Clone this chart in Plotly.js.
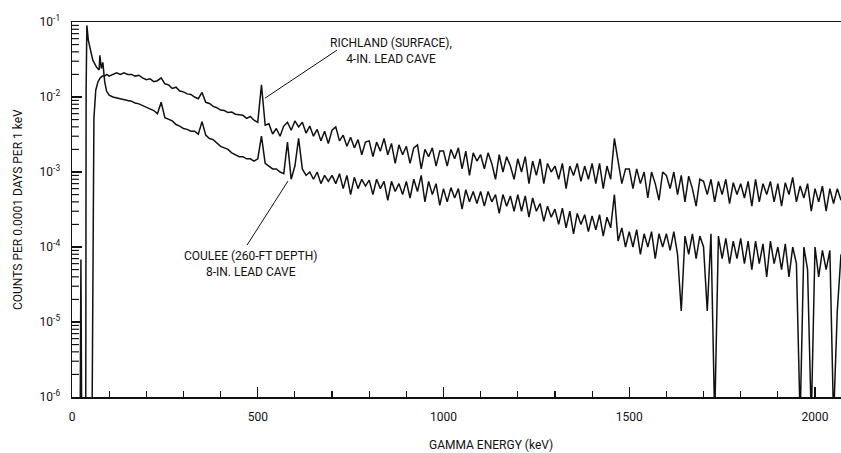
<!DOCTYPE html>
<html>
<head>
<meta charset="utf-8">
<script src="https://cdn.plot.ly/plotly-3.0.1.min.js"></script>
<style>html,body{margin:0;padding:0;background:#fff;}#chart{width:841px;height:453px;}</style>
</head>
<body>
<div id="chart"></div>
<script>
// ---- Data ----
// Low-energy points (keV) and counts per 0.0001 days per 1 keV
var couleeLowE   = [22, 24, 26, 37, 38, 40, 44, 50, 56, 66, 73, 75, 79, 83, 88, 93];
var couleeLowV   = [5e-7, 6.8e-5, 5e-7, 5e-7, 0.0124, 0.09, 0.057, 0.04, 0.031, 0.025, 0.023, 0.036, 0.024, 0.029, 0.016, 0.012];
var richlandLowE = [54, 59, 64, 70, 76, 82, 88, 94];
var richlandLowV = [5e-7, 0.0052, 0.0124, 0.016, 0.018, 0.019, 0.019, 0.02];

// Channel energies (keV), 100 .. 2070
var energy = [
 100,110,120,130,140,150,160,170,180,190,
 200,210,220,230,240,250,260,270,280,290,
 300,310,320,330,340,350,360,370,380,390,
 400,410,420,430,440,450,460,470,480,490,
 500,510,520,530,540,550,560,570,580,590,
 600,610,620,630,640,650,660,670,680,690,
 700,710,720,730,740,750,760,770,780,790,
 800,810,820,830,840,850,860,870,880,890,
 900,910,920,930,940,950,960,970,980,990,
 1000,1010,1020,1030,1040,1050,1060,1070,1080,1090,
 1100,1110,1120,1130,1140,1150,1160,1170,1180,1190,
 1200,1210,1220,1230,1240,1250,1260,1270,1280,1290,
 1300,1310,1320,1330,1340,1350,1360,1370,1380,1390,
 1400,1410,1420,1430,1440,1450,1460,1470,1480,1490,
 1500,1510,1520,1530,1540,1550,1560,1570,1580,1590,
 1600,1610,1620,1630,1640,1650,1660,1670,1680,1690,
 1700,1710,1720,1730,1740,1750,1760,1770,1780,1790,
 1800,1810,1820,1830,1840,1850,1860,1870,1880,1890,
 1900,1910,1920,1930,1940,1950,1960,1970,1980,1990,
 2000,2010,2020,2030,2040,2050,2060,2070
];

// RICHLAND (SURFACE), 4-IN. LEAD CAVE
var richland = [
 0.019,0.020,0.021,0.020,0.021,0.020,0.020,0.019,0.0195,0.018,
 0.017,0.0175,0.016,0.0165,0.018,0.015,0.0145,0.013,0.0135,0.012,
 0.0117,0.011,0.0108,0.010,0.0095,0.0115,0.0085,0.0082,0.0075,0.0072,
 0.0067,0.0066,0.0062,0.0063,0.0059,0.0058,0.0057,0.0052,0.0055,0.0049,
 0.0046,0.0145,0.0042,0.0044,0.0032,0.0038,0.0030,0.0041,0.0046,0.0036,
 0.0048,0.0040,0.0046,0.0033,0.0041,0.0030,0.0037,0.0026,0.0035,0.0024,
 0.0036,0.0040,0.0026,0.0031,0.0022,0.0029,0.0021,0.0027,0.0017,0.0025,
 0.0026,0.0016,0.0025,0.0019,0.0028,0.0017,0.0024,0.0013,0.0023,0.0017,
 0.0022,0.0013,0.0021,0.0023,0.0011,0.0020,0.0016,0.0021,0.0012,0.0019,
 0.0019,0.0012,0.0020,0.0015,0.0021,0.0011,0.0019,0.0009,0.0018,0.0014,
 0.0017,0.0011,0.0018,0.0013,0.0008,0.0017,0.0010,0.0016,0.0012,0.0008,
 0.0015,0.0010,0.0016,0.0007,0.0014,0.0009,0.0015,0.0007,0.0013,0.0010,
 0.0012,0.0008,0.0013,0.0006,0.0012,0.0009,0.0013,0.00075,0.0012,0.0008,
 0.0013,0.0007,0.0013,0.0006,0.0012,0.0008,0.0028,0.0014,0.0007,0.0011,
 0.0011,0.0006,0.0011,0.0007,0.0010,0.00045,0.0010,0.0007,0.00042,0.0010,
 0.0009,0.0006,0.0010,0.0005,0.0009,0.0004,0.00088,0.0006,0.00035,0.0008,
 0.00075,0.0005,0.0008,0.0004,0.00075,0.0005,0.0008,0.00038,0.00072,0.0005,
 0.0007,0.00045,0.00075,0.00035,0.0008,0.0004,0.0007,0.0005,0.00075,0.0004,
 0.0007,0.00035,0.00072,0.0005,0.00085,0.0004,0.00065,0.00045,0.0007,0.0003,
 0.0006,0.0004,0.00065,0.0003,0.0006,0.00038,0.0006,0.00042
];

// COULEE (260-FT DEPTH), 8-IN. LEAD CAVE
var coulee = [
 0.0106,0.0100,0.0097,0.0095,0.0092,0.0090,0.0088,0.0083,0.0081,0.0077,
 0.0074,0.0071,0.0066,0.0060,0.0085,0.0053,0.0050,0.0048,0.0043,0.0041,
 0.0038,0.0037,0.0035,0.0035,0.0032,0.0047,0.0031,0.0028,0.0027,0.0024,
 0.0022,0.0021,0.0020,0.0018,0.0017,0.0016,0.0016,0.0015,0.0015,0.0014,
 0.0015,0.0030,0.0013,0.0012,0.0011,0.0011,0.0010,0.00095,0.0025,0.0008,
 0.0012,0.0028,0.0011,0.0009,0.0010,0.0008,0.0010,0.0007,0.0009,0.00075,
 0.0009,0.0007,0.00095,0.0006,0.0009,0.0005,0.00085,0.0006,0.0008,0.00065,
 0.00078,0.0005,0.0008,0.0006,0.00075,0.00042,0.00075,0.00055,0.0007,0.0005,
 0.00075,0.00045,0.0008,0.00055,0.0009,0.0004,0.00075,0.0005,0.0007,0.00036,
 0.0006,0.0004,0.00062,0.00045,0.0006,0.00032,0.00058,0.0004,0.00055,0.00038,
 0.00055,0.00035,0.00055,0.0004,0.0005,0.00028,0.0005,0.00035,0.00048,0.0003,
 0.0005,0.0003,0.00048,0.00025,0.00045,0.0003,0.00038,0.00022,0.00035,0.00025,
 0.00032,0.0002,0.00033,0.00018,0.0003,0.00015,0.00028,0.0002,0.00027,0.00016,
 0.00026,0.00017,0.00027,0.00014,0.00025,0.00018,0.0005,0.00012,0.00018,0.0001,
 0.00016,0.0001,0.00017,0.00008,0.00015,0.0001,0.00016,0.00007,0.00015,0.0001,
 0.00015,0.00009,0.00016,0.00008,0.000014,0.00014,0.00008,0.00015,0.00007,0.00014,
 0.0001,0.000014,0.00015,5e-7,0.00014,0.00007,0.00013,0.00006,0.00012,0.00007,
 0.00013,0.00006,0.00012,0.00005,0.00012,0.00006,0.00011,0.00004,0.00012,0.00006,
 0.0001,0.00005,0.00011,0.00004,0.0001,0.00006,5e-7,0.0001,0.00005,5e-7,
 0.0001,0.00004,0.00009,0.00005,0.00009,5e-7,0.000014,0.00008
];

var yTickVals = [1e-6, 1e-5, 1e-4, 1e-3, 1e-2, 1e-1];
var yTickText = ['10<sup>-6</sup>','10<sup>-5</sup>','10<sup>-4</sup>','10<sup>-3</sup>','10<sup>-2</sup>','10<sup>-1</sup>'];
var xTickVals = [0, 500, 1000, 1500, 2000];
var xTickText = ['0', '500', '1000', '1500', '2000'];

// ---- Axis decoration: minor ticks (2..9 in each decade) on the log y axis ----
var yRange = [-6, -1];
var minorShapes = [];
yTickVals.slice(0, 5).forEach(function (d) {
  for (var k = 2; k <= 9; k++) {
    var p = (Math.log10(d * k) - yRange[0]) / (yRange[1] - yRange[0]);
    minorShapes.push({type: 'line', xref: 'paper', yref: 'paper', x0: 0, x1: 0.009, y0: p, y1: p,
                      line: {color: '#111', width: 1.2}});
  }
});

// ---- Build traces ----
var lineStyle = {color: '#111', width: 1.5};
var traces = [
  {x: richlandLowE.concat(energy), y: richlandLowV.concat(richland), type: 'scatter', mode: 'lines',
   line: lineStyle, name: 'Richland', hoverinfo: 'x+y'},
  {x: couleeLowE.concat(energy), y: couleeLowV.concat(coulee), type: 'scatter', mode: 'lines',
   line: lineStyle, name: 'Coulee', hoverinfo: 'x+y'}
];

var labelFont = {family: 'Roboto, "Liberation Sans", sans-serif', size: 12, color: '#111'};
var tickFont = {family: 'Roboto, "Liberation Sans", sans-serif', size: 12, color: '#111'};

var layout = {
  width: 841, height: 453,
  margin: {l: 72, r: 0, t: 22, b: 56},
  paper_bgcolor: '#fff', plot_bgcolor: '#fff',
  showlegend: false,
  xaxis: {
    range: [0, 2070], showgrid: false, zeroline: false,
    showline: true, linecolor: '#111', linewidth: 1.5, mirror: true,
    tickmode: 'array', tickvals: xTickVals, ticktext: xTickText,
    ticks: 'inside', ticklen: 10, tickwidth: 1.3, tickcolor: '#111',
    minor: {dtick: 100, ticks: 'inside', ticklen: 6, tickwidth: 1.1, tickcolor: '#111', showgrid: false},
    ticklabelstandoff: 8,
    tickfont: tickFont
  },
  yaxis: {
    type: 'log', range: yRange, showgrid: false, zeroline: false,
    showline: true, linecolor: '#111', linewidth: 1.5,
    tickmode: 'array', tickvals: yTickVals, ticktext: yTickText,
    ticks: 'inside', ticklen: 10, tickwidth: 1.3, tickcolor: '#111',
    ticklabelstandoff: 8,
    tickfont: tickFont
  },
  shapes: [
    {type: 'line', xref: 'paper', yref: 'paper', x0: 0.251, y0: 0.797, x1: 0.3446, y1: 0.925,
     line: {color: '#111', width: 1}},
    {type: 'line', xref: 'paper', yref: 'paper', x0: 0.2809, y0: 0.576, x1: 0.2276, y1: 0.405,
     line: {color: '#111', width: 1}}
  ].concat(minorShapes),
  annotations: [
    {xref: 'paper', yref: 'paper', x: 0.4148, y: 0.9227, xanchor: 'center', yanchor: 'middle',
     text: 'RICHLAND (SURFACE),<br>4-IN. LEAD CAVE', showarrow: false, align: 'center', font: labelFont},
    {xref: 'paper', yref: 'paper', x: 0.2315, y: 0.356, xanchor: 'center', yanchor: 'middle',
     text: 'COULEE (260-FT DEPTH)<br>8-IN. LEAD CAVE', showarrow: false, align: 'center', font: labelFont},
    {xref: 'paper', yref: 'paper', x: -0.0702, y: 0.4987, xanchor: 'center', yanchor: 'middle',
     text: 'COUNTS PER 0.0001 DAYS PER 1 keV', textangle: -90, showarrow: false, font: labelFont},
    {xref: 'paper', yref: 'paper', x: 0.5449, y: -0.128, xanchor: 'center', yanchor: 'middle',
     text: 'GAMMA ENERGY (keV)', showarrow: false, font: labelFont}
  ]
};

Plotly.newPlot('chart', traces, layout, {displayModeBar: false, staticPlot: true});
</script>
</body>
</html>
